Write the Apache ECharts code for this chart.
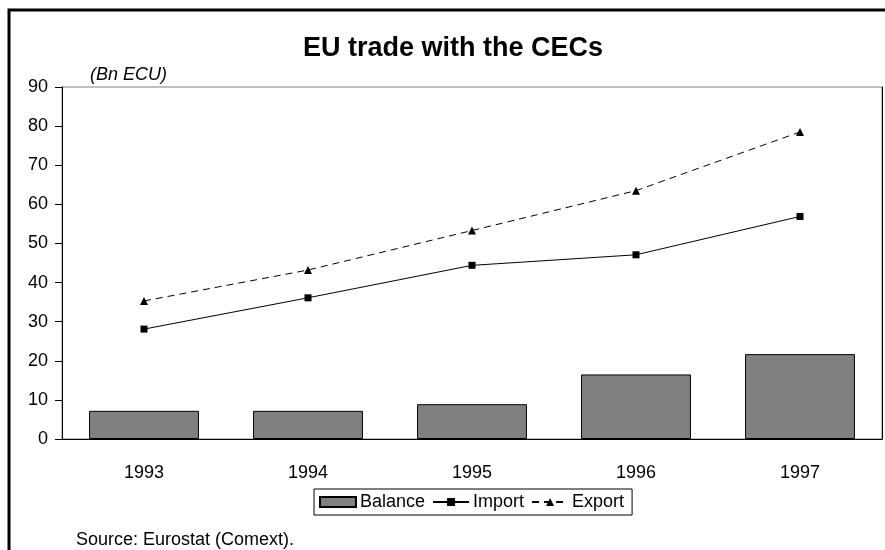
<!DOCTYPE html>
<html>
<head>
<meta charset="utf-8">
<script src="https://cdn.jsdelivr.net/npm/echarts@6/dist/echarts.min.js"></script>
<style>
html,body{margin:0;padding:0;background:#fff;}
#chart{width:885px;height:550px;}
</style>
</head>
<body>
<div id="chart"></div>
<script>
var years = ['1993', '1994', '1995', '1996', '1997'];
var balance = [7.2, 7.2, 8.9, 16.5, 21.7];
var importVals = [28.1, 36.1, 44.4, 47.1, 56.9];
var exportVals = [35.3, 43.2, 53.3, 63.5, 78.5];
var yTicks = { min: 0, max: 90, interval: 10 };

var FONT = '"Liberation Sans", Arial, sans-serif';
var chart = echarts.init(document.getElementById('chart'), null, { renderer: 'canvas' });
chart.setOption({
  backgroundColor: '#fff',
  animation: false,
  title: {
    text: 'EU trade with the CECs',
    left: 303,
    top: 35,
    padding: 0,
    textStyle: { fontFamily: FONT, fontSize: 27, fontWeight: 'bold', color: '#000' }
  },
  graphic: [
    { type: 'rect', shape: { x: 9, y: 10, width: 900, height: 600 }, style: { fill: 'none', stroke: '#000', lineWidth: 3 }, z: 100 },
    { type: 'text', left: 76, top: 531, style: { text: 'Source: Eurostat (Comext).', font: '18px "Liberation Sans", Arial, sans-serif', fill: '#000' } }
  ],
  legend: {
    left: 314,
    top: 489,
    padding: [4, 8, 4, 5],
    itemGap: 7,
    itemWidth: 36,
    itemHeight: 10,
    borderColor: '#000',
    borderWidth: 1,
    borderRadius: 0,
    textStyle: { fontFamily: FONT, fontSize: 18, color: '#000', padding: [0, 0, 0, -1] },
    data: [{ name: 'Balance', icon: 'rect' }, { name: 'Import' }, { name: 'Export' }]
  },
  grid: {
    left: 62, right: 3, top: 87, bottom: 111,
    show: true, borderColor: '#808080', borderWidth: 1
  },
  xAxis: {
    type: 'category',
    data: years,
    axisLine: { show: true, lineStyle: { color: '#000', width: 1 } },
    axisTick: { show: false },
    axisLabel: { fontFamily: FONT, fontSize: 18, color: '#000', margin: 25 },
    splitLine: { show: false }
  },
  yAxis: [{
    type: 'value',
    min: yTicks.min, max: yTicks.max, interval: yTicks.interval,
    name: '(Bn ECU)',
    nameLocation: 'end',
    nameGap: 3,
    nameTextStyle: { fontFamily: FONT, fontSize: 18, fontStyle: 'italic', color: '#000', align: 'left', padding: [0, 0, 0, 28] },
    axisLine: { show: true, lineStyle: { color: '#000', width: 1 } },
    axisTick: { show: true, length: 7, lineStyle: { color: '#000' } },
    axisLabel: { fontFamily: FONT, fontSize: 18, color: '#000', margin: 14 },
    splitLine: { show: false }
  }, {
    type: 'value',
    position: 'right',
    min: yTicks.min, max: yTicks.max, interval: yTicks.interval,
    axisLine: { show: true, lineStyle: { color: '#000', width: 1 } },
    axisTick: { show: false },
    axisLabel: { show: false },
    splitLine: { show: false }
  }],
  series: [
    {
      name: 'Balance', type: 'bar', data: balance, barWidth: '67%',
      itemStyle: { color: '#808080', borderColor: '#000', borderWidth: 1 }
    },
    {
      name: 'Import', type: 'line', data: importVals,
      symbol: 'rect', symbolSize: 7,
      itemStyle: { color: '#000' },
      lineStyle: { color: '#000', width: 1, type: 'solid' }
    },
    {
      name: 'Export', type: 'line', data: exportVals,
      symbol: 'triangle', symbolSize: 8,
      itemStyle: { color: '#000' },
      lineStyle: { color: '#000', width: 1, type: [7, 5] }
    }
  ]
});
</script>
</body>
</html>
